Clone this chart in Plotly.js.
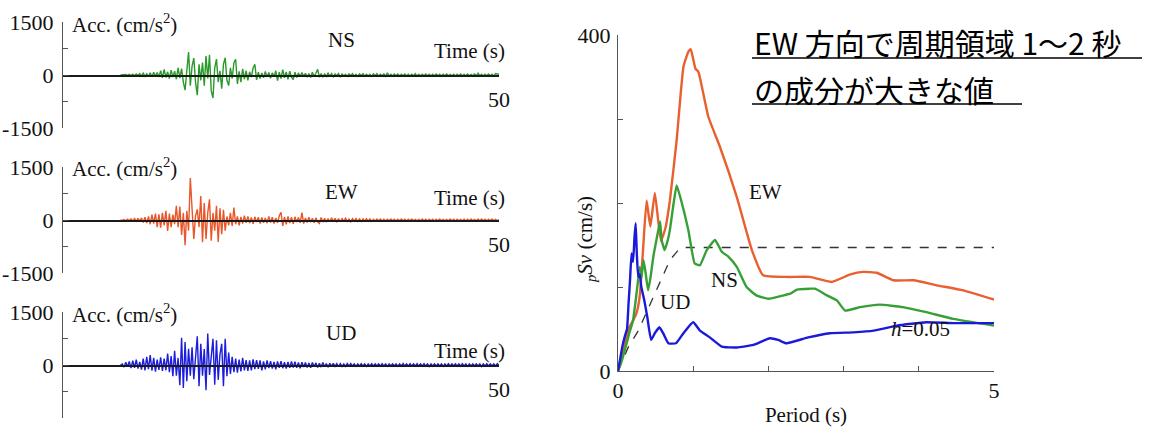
<!DOCTYPE html>
<html>
<head>
<meta charset="utf-8">
<script src="https://cdn.plot.ly/plotly-3.0.1.min.js"></script>
<style>html,body{margin:0;padding:0;background:#fff;}#chart{width:1150px;height:430px;}</style>
</head>
<body>
<div id="chart"></div>
<script>
// ---------- Acceleration records (cm/s^2), sampled every WAVE_DT s from WAVE_T0 s ----------
const WAVE_T0 = 6.6;
const WAVE_DT = 0.2;
const waveNames = ['NS', 'EW', 'UD'];
const accNS = [
  0, 10,
  0, 15, -10, 20, -15,   25, -20, 30, -15, 40,   -30, 50, -40, 35, -45,
  60, -50, 80, -40, 70,  -60, 120, -80, 160, -70, 90, -100, 140, -60, 110,
  -120, 200, -90, 180, -200,  -430, 120, 650, -300, 250,  480, -200, -570, 300, -150,
  350, -300, 540, -100, 570,  -450, -650, 200, 450, -200,  120, -390, 300, 490, -150,
  -300, 200, -100, 350, 445,  -250, 100, -200, 170, -120,  120, -150, 90, -60, 200,
  305, -140, 80, -100, 60,  -80, 100, -60, 70, -90,  60, -50, 120, -160, 80,
  -100, 150, -80, 90, -120,  110, -60, -130, 80, -70,  60, -50, 70, -40, 50,
  -60, 40, -70, 80, -40,  50, 160, -60, 40, -50,  30, -40, 50, -30, 40,
  -50, 30, -20, 40, -60,  30, -30, 20, -40, 30,  -20, 40, -30, 20, -40,
  30, -20, 40, -30, 20,  -30, 20, -40, 30, -20,  40, -30, 20, -20, 30,
  -40, 60, -30, 20, -30,  30, -20, 30, -30, 20,  -20, 30, -30, 20, -30,
  20, -20, 40, -30, 20,  -30, 20, -20, 30, -20,  20, -30, 20, -20, 30,
  -20, 20, -30, 20, -20,  30, -20, 20, -20, 20,  -30, 20, -20, 30, -20,
  20, -20, 30, -20, 20,  -20, 30, -20, 50, -20,  20, -30, 20, -20, 30,
  -20, 20, -30, 40, 30,
  20
];
const accEW = [
  0, -10,
  15, -20, 20, -25, 30,  -30, 40, -35, 50, -40,  60, -70, 80, -90, 100,
  -120, 150, -100, 180, -200,  160, -220, 200, -150, 260,  -310, 180, -200, 150, -120,
  400, -200, 380, -420, 200,  -715, 260, -300, 1190, 200,  -540, 120, 300, -200, 680,
  -630, 480, -540, 200, 585,  -585, 200, -300, 400, -620,  330, -400, 290, -300, 100,
  -150, 200, -170, 350, -120,  100, -150, 90, -100, 120,  -80, 100, -90, 70, -110,
  90, -60, 80, -100, 70,  -80, 60, -90, 100, -70,  80, -100, 60, -80, 120,
  220, -170, 90, -120, 100,  -90, 80, -110, 90, -60,  70, -80, 210, -100, 60,
  -70, 80, -60, 50, -80,  60, -50, -100, 70, -60,  50, -60, 40, -50, 60,
  -40, 50, -60, 40, -50,  40, -30, 50, -40, 30,  -50, 40, -30, 40, -40,
  30, -40, 30, -30, 40,  -30, 30, -40, 20, -30,  30, -20, 30, -30, 20,
  -30, 20, -20, 30, -20,  20, -30, 20, -20, 30,  -20, 20, -30, 20, -20,
  30, -20, 20, -20, 20,  -20, 30, -20, 20, -30,  20, -20, 20, -30, 20,
  -20, 30, -20, 20, -20,  20, -20, 30, -20, 20,  -30, 20, -20, 20, -20,
  20, -30, 20, -20, 30,  -20, 20, -20, 30, -20,  30, -20, 20, -30, 20,
  -20, 30, -20, 20, -20,
  10
];
const accUD = [
  0, 30,
  -60, 80, -50, 100, -90,  120, -80, 150, -100, 90,  -130, 180, -150, 230, -120,
  280, -160, 200, -185, 150,  -140, 220, -170, 180, -150,  320, -200, 250, -320, 400,
  -300, 200, -575, 770, -650,  650, -460, 460, -300, 500,  -400, 300, 815, -600, 600,
  -300, 450, -715, 890, -280,  370, 740, -555, 700, -420,  300, 600, -600, 740, -320,
  350, -250, 230, -200, 180,  -220, 150, -180, 200, -150,  140, -170, 130, -150, 160,
  -120, 140, -110, 130, -150,  100, -120, 130, -90, 110,  -100, 90, -120, 100, -80,
  110, -90, 80, -100, 90,  -80, 100, -70, 90, -80,  70, -90, 80, -60, 70,
  -70, 60, -80, 70, -50,  60, -70, 50, -60, 70,  -50, 40, -60, 50, -40,
  50, -40, 40, -50, 40,  -40, 30, -40, 40, -30,  40, -30, 30, -40, 30,
  -30, 40, -30, 30, -40,  30, -30, 40, -30, 30,  -30, 30, -30, 40, -30,
  30, -40, 30, -30, 30,  -30, 30, -40, 30, -30,  40, -30, 30, -30, 40,
  -30, 30, -30, 40, -30,  30, -30, 40, -30, 30,  -40, 30, -30, 30, -30,
  30, -30, 30, -40, 30,  -30, 40, -30, 30, -30,  30, -30, 30, -30, 40,
  -30, 30, -40, 30, -30,  30, -30, 30, -30, 30,  -40, 30, -30, 40, -30,
  30, -30, 30, -30, 40,
  -20
];

// ---------- Pseudo velocity response spectra, h = 0.05 ----------
const ewPeriod = [0, 0.05, 0.1, 0.15, 0.2, 0.25, 0.29, 0.33, 0.38, 0.43, 0.49, 0.57, 0.63, 0.69, 0.78, 0.87, 0.935, 0.967, 1.03, 1.07, 1.2, 1.355, 1.58, 1.78, 1.93, 2.24, 2.55, 2.84, 3.09, 3.26, 3.44, 3.66, 3.93, 4.24, 4.59, 5.0];
const ewSv     = [0, 15, 35, 52, 60, 70, 90, 140, 203, 172, 212, 155, 170, 203, 275, 362, 380, 383, 360, 356, 303, 267, 207, 144, 114, 112, 112, 106, 115, 118, 117, 108, 108, 102, 96, 85];
const nsPeriod = [0, 0.05, 0.1, 0.15, 0.2, 0.25, 0.29, 0.31, 0.34, 0.37, 0.4, 0.43, 0.47, 0.52, 0.56, 0.58, 0.62, 0.66, 0.69, 0.74, 0.78, 0.84, 0.935, 1.02, 1.09, 1.18, 1.29, 1.38, 1.47, 1.58, 1.71, 1.84, 2.0, 2.2, 2.29, 2.38, 2.55, 2.62, 2.78, 2.91, 3.02, 3.22, 3.48, 3.79, 4.1, 4.46, 5.0];
const nsSv     = [0, 12, 28, 45, 60, 95, 124, 110, 132, 115, 96, 110, 136, 160, 178, 156, 144, 155, 168, 200, 221, 203, 168, 128, 126, 144, 156, 142, 136, 124, 100, 90, 86, 90, 92, 97, 98, 98, 90, 84, 72, 76, 79, 76, 70, 62, 54];
const udPeriod = [0, 0.03, 0.06, 0.09, 0.12, 0.14, 0.16, 0.18, 0.2, 0.22, 0.235, 0.25, 0.27, 0.29, 0.31, 0.35, 0.39, 0.44, 0.49, 0.55, 0.6, 0.67, 0.77, 0.87, 1.0, 1.09, 1.22, 1.38, 1.58, 1.8, 2.02, 2.13, 2.24, 2.53, 2.82, 3.13, 3.4, 3.71, 4.1, 4.46, 5.0];
const udSv     = [0, 15, 30, 41, 50, 80, 108, 140, 130, 160, 176, 140, 112, 115, 100, 84, 64, 37, 45, 52, 45, 33, 33, 45, 58, 48, 40, 29, 28, 31, 39, 37, 33, 40, 45, 46, 48, 54, 58, 57, 57];
const designPeriod = [0, 0.14, 0.27, 0.43, 0.56, 0.69, 0.82, 0.87, 5.0];
const designSv     = [0, 29, 48, 80, 108, 132, 146, 147, 147];

const accTicks = [-1500, 0, 1500];
const accTickText = ['-1500', '0', '1500'];
const accMinorTicks = [-750, 750];
const svTicks = [0, 400];
const svTickText = ['0', '400'];
const svMinorTicks = [100, 200, 300];
const periodTicks = [0, 5];
const periodTickText = ['0', '5'];
const periodMinorTicks = [1, 2, 3, 4];
const noteLine1 = 'EW 方向で周期領域 1～2 秒';
const noteLine2 = 'の成分が大きな値';

// ---------- styling / layout ----------
const W = 1150, H = 430;
const fx = p => p / W;
const fy = p => 1 - p / H;
const SERIF = 'Liberation Serif, Times New Roman, serif';
const CJK = 'Noto Sans CJK JP, sans-serif';
const colNS = '#2a982a', colEW = '#e8562a', colUD = '#1c1cdc';

const panelTop = [22, 167, 312];
const panelBot = [128, 273, 418];
const waveColors = [colNS, colEW, colUD];
const waveData = [accNS, accEW, accUD];

const traces = [];
waveData.forEach((arr, i) => {
  traces.push({
    type: 'scatter', mode: 'lines', x0: WAVE_T0, dx: WAVE_DT, y: arr,
    xaxis: 'x' + (i + 1), yaxis: 'y' + (i + 1),
    line: {color: waveColors[i], width: 1.4}, hoverinfo: 'skip', showlegend: false
  });
});
traces.push({type:'scatter', mode:'lines', x: designPeriod, y: designSv, xaxis:'x4', yaxis:'y4',
  line:{color:'#333', width:1.3, dash:'dash'}, showlegend:false, hoverinfo:'skip'});
traces.push({type:'scatter', mode:'lines', x: ewPeriod, y: ewSv, xaxis:'x4', yaxis:'y4',
  line:{color:'#e8602e', width:2.4, shape:'spline', smoothing:0.4}, showlegend:false});
traces.push({type:'scatter', mode:'lines', x: nsPeriod, y: nsSv, xaxis:'x4', yaxis:'y4',
  line:{color:'#36a036', width:2.4, shape:'spline', smoothing:0.4}, showlegend:false});
traces.push({type:'scatter', mode:'lines', x: udPeriod, y: udSv, xaxis:'x4', yaxis:'y4',
  line:{color:'#1a1ad8', width:2.4, shape:'spline', smoothing:0.4}, showlegend:false});

const layout = {
  width: W, height: H,
  margin: {l: 0, r: 0, t: 0, b: 0},
  paper_bgcolor: '#fff', plot_bgcolor: 'rgba(0,0,0,0)',
  showlegend: false,
  font: {family: SERIF, size: 22, color: '#111'},
  annotations: [], shapes: []
};

for (let i = 0; i < 3; i++) {
  const top = panelTop[i], bot = panelBot[i];
  const zero = (top + bot) / 2;
  layout['xaxis' + (i + 1)] = {
    domain: [fx(63), fx(499)], range: [0, 50], anchor: 'free', position: fy(zero),
    tickvals: [50], ticktext: ['50'], ticks: 'inside', ticklen: 8, tickwidth: 1.2, tickcolor: '#333',
    showline: true, linecolor: '#1a1a1a', linewidth: 1.6, showgrid: false, zeroline: false,
    tickfont: {family: SERIF, size: 22, color: '#111'}, ticklabelstandoff: 4, fixedrange: true
  };
  layout['yaxis' + (i + 1)] = {
    domain: [fy(bot), fy(top)], range: [-1500, 1500], anchor: 'x' + (i + 1),
    tickmode: 'array', tickvals: accTicks, ticktext: accTickText, ticks: 'inside', ticklen: 6, tickwidth: 1, tickcolor: '#444',
    minor: {tickmode: 'array', tickvals: accMinorTicks, ticks: 'inside', ticklen: 5, tickcolor: '#555', showgrid: false},
    showline: true, linecolor: '#555', linewidth: 1.2, showgrid: false, zeroline: false,
    tickfont: {family: SERIF, size: 22, color: '#111'}, ticklabelstandoff: 4, fixedrange: true
  };
}
layout.xaxis4 = {
  domain: [fx(618), fx(994)], range: [0, 5], anchor: 'y4',
  tickmode: 'array', tickvals: periodTicks, ticktext: periodTickText, ticks: 'inside', ticklen: 5, tickcolor: '#555',
  minor: {tickmode: 'array', tickvals: periodMinorTicks, ticks: 'inside', ticklen: 5, tickcolor: '#555', showgrid: false},
  showline: true, linecolor: '#555', linewidth: 1, showgrid: false, zeroline: false,
  tickfont: {family: SERIF, size: 22, color: '#111'},
  title: {text: 'Period (s)', font: {family: SERIF, size: 21, color: '#111'}, standoff: 4}
};
layout.yaxis4 = {
  domain: [fy(371), fy(35)], range: [0, 400], anchor: 'x4',
  tickmode: 'array', tickvals: svTicks, ticktext: svTickText, ticks: 'inside', ticklen: 5, tickcolor: '#555',
  minor: {tickmode: 'array', tickvals: svMinorTicks, ticks: 'inside', ticklen: 5, tickcolor: '#555', showgrid: false},
  showline: true, linecolor: '#555', linewidth: 1, showgrid: false, zeroline: false,
  tickfont: {family: SERIF, size: 22, color: '#111'}, ticklabelstandoff: 2
};

const compLabelY = [40, 192, 333];
const timeLabelY = [51, 198, 351];
for (let i = 0; i < 3; i++) {
  layout.annotations.push({xref:'paper', yref:'paper', x: fx(70), y: fy(panelTop[i] + 1), xanchor:'left', yanchor:'middle',
    text: 'Acc. (cm/s<sup>2</sup>)', showarrow:false, font:{family:SERIF, size:21, color:'#111'}});
  layout.annotations.push({xref:'paper', yref:'paper', x: fx(341), y: fy(compLabelY[i]), xanchor:'center', yanchor:'middle',
    text: waveNames[i], showarrow:false, font:{family:SERIF, size:21, color:'#111'}});
  layout.annotations.push({xref:'paper', yref:'paper', x: fx(469), y: fy(timeLabelY[i]), xanchor:'center', yanchor:'middle',
    text: 'Time (s)', showarrow:false, font:{family:SERIF, size:21, color:'#111'}});
}
layout.annotations.push(
  {xref:'paper', yref:'paper', x: fx(765), y: fy(192), text:'EW', showarrow:false, font:{family:SERIF, size:21, color:'#111'}},
  {xref:'paper', yref:'paper', x: fx(724), y: fy(280), text:'NS', showarrow:false, font:{family:SERIF, size:21, color:'#111'}},
  {xref:'paper', yref:'paper', x: fx(675), y: fy(316), text:'UD', showarrow:false, font:{family:SERIF, size:21, color:'#111'}},
  {xref:'paper', yref:'paper', x: fx(952), y: fy(343), text:'<i>h</i>=0.05', showarrow:false, font:{family:SERIF, size:21, color:'#111'}},
  {xref:'paper', yref:'paper', x: fx(586), y: fy(240), textangle:-90, text:'<i><sub>p</sub>Sv</i> (cm/s)', showarrow:false, font:{family:SERIF, size:21, color:'#111'}},
  {xref:'paper', yref:'paper', x: fx(752), y: fy(42), xanchor:'left', yanchor:'middle', text: noteLine1, showarrow:false, font:{family:CJK, size:30, color:'#000'}},
  {xref:'paper', yref:'paper', x: fx(752), y: fy(89), xanchor:'left', yanchor:'middle', text: noteLine2, showarrow:false, font:{family:CJK, size:30, color:'#000'}}
);
layout.shapes.push(
  {type:'line', xref:'paper', yref:'paper', x0: fx(752), x1: fx(1142), y0: fy(58), y1: fy(58), line:{color:'#000', width:1.6}},
  {type:'line', xref:'paper', yref:'paper', x0: fx(752), x1: fx(1022), y0: fy(104), y1: fy(104), line:{color:'#000', width:1.6}}
);

Plotly.newPlot('chart', traces, layout, {staticPlot: true, displayModeBar: false});
</script>
</body>
</html>
